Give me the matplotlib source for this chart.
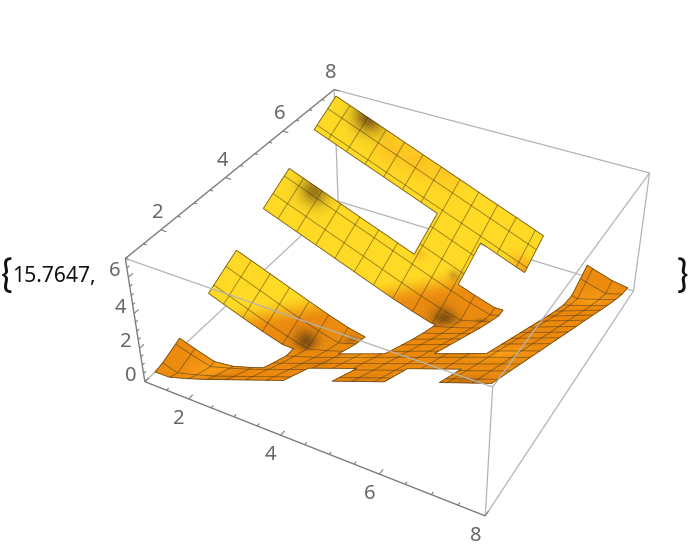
import numpy as np, matplotlib
matplotlib.use('Agg')
import matplotlib.pyplot as plt
from mpl_toolkits.mplot3d import proj3d
from mpl_toolkits.mplot3d.art3d import Poly3DCollection, Line3DCollection

# ---- data ----
NODE_X = [1, 1.4375, 1.875, 2.3125, 2.75, 3.1875, 3.625, 4.0625, 4.5, 4.9375, 5.375, 5.8125, 6.25, 6.6875, 7.125, 7.5625, 8]
NODE_Y = NODE_X
# height at mesh nodes, rows = y, columns = x
HEIGHT = [
 [0.15,0.50,0.88,1.31,1.75,2.19,2.63,3.06,3.50,3.94,4.38,4.81,5.25,5.69,6.13,6.56,7.00],
 [0.50,0.15,0.50,0.88,1.31,1.75,2.19,2.63,3.06,3.50,3.94,4.38,4.81,5.25,5.69,6.13,6.56],
 [0.88,0.50,0.15,0.50,0.88,1.31,1.75,2.19,2.63,3.06,3.50,3.94,4.38,4.81,5.25,5.69,6.13],
 [1.31,0.88,0.50,0.15,0.50,0.88,1.31,1.75,2.19,2.63,3.06,3.50,3.94,4.38,4.81,5.25,5.69],
 [1.75,1.31,0.88,0.50,0.15,0.50,0.88,1.31,1.75,2.19,2.63,3.06,3.50,3.94,4.38,4.81,5.25],
 [2.19,1.75,1.31,0.88,0.50,0.15,0.50,0.88,1.31,1.75,2.19,2.63,3.06,3.50,3.94,4.38,4.81],
 [2.63,2.19,1.75,1.31,0.88,0.50,0.15,0.50,0.88,1.31,1.75,2.19,2.63,3.06,3.50,3.94,4.38],
 [3.06,2.63,2.19,1.75,1.31,0.88,0.50,0.15,0.50,0.88,1.31,1.75,2.19,2.63,3.06,3.50,3.94],
 [3.50,3.06,2.63,2.19,1.75,1.31,0.88,0.50,0.15,0.50,0.88,1.31,1.75,2.19,2.63,3.06,3.50],
 [3.94,3.50,3.06,2.63,2.19,1.75,1.31,0.88,0.50,0.15,0.50,0.88,1.31,1.75,2.19,2.63,3.06],
 [4.38,3.94,3.50,3.06,2.63,2.19,1.75,1.31,0.88,0.50,0.15,0.50,0.88,1.31,1.75,2.19,2.63],
 [4.81,4.38,3.94,3.50,3.06,2.63,2.19,1.75,1.31,0.88,0.50,0.15,0.50,0.88,1.31,1.75,2.19],
 [5.25,4.81,4.38,3.94,3.50,3.06,2.63,2.19,1.75,1.31,0.88,0.50,0.15,0.50,0.88,1.31,1.75],
 [5.69,5.25,4.81,4.38,3.94,3.50,3.06,2.63,2.19,1.75,1.31,0.88,0.50,0.15,0.50,0.88,1.31],
 [6.13,5.69,5.25,4.81,4.38,3.94,3.50,3.06,2.63,2.19,1.75,1.31,0.88,0.50,0.15,0.50,0.88],
 [6.56,6.13,5.69,5.25,4.81,4.38,3.94,3.50,3.06,2.63,2.19,1.75,1.31,0.88,0.50,0.15,0.50],
 [7.00,6.56,6.13,5.69,5.25,4.81,4.38,3.94,3.50,3.06,2.63,2.19,1.75,1.31,0.88,0.50,0.15],
]
# open maze cells: y-row -> x columns (cell i spans x in [i, i+1])
ROW_1 = [1, 2, 3, 5, 7]
ROW_2 = [3, 4, 5, 6, 7]
ROW_3 = [1, 2, 3, 5, 7]
ROW_4 = [5, 7]
ROW_5 = [1, 2, 3, 4, 5, 7]
ROW_6 = [4, 7]
ROW_7 = [1, 2, 3, 4, 5, 7]
X_RANGE = (1.1, 7.9)
Y_RANGE = (1.2, 7.9)
# colour accents on the surface: x, y, radius, strength, colour
SPOT_X = [1.9, 1.75, 3.1, 5.1, 3.85, 5.8, 4.85, 4.1, 2.6, 3.2, 3.8, 5.85, 2.0, 7.3, 7.5, 4.6, 2.5, 5.5, 7.4, 6.5, 4.0]
SPOT_Y = [7.9, 5.9, 3.3, 5.2, 3.75, 5.4, 6.1, 6.05, 7.6, 7.7, 7.8, 7.1, 1.7, 3.0, 7.0, 2.8, 1.25, 1.3, 1.25, 3.1, 2.3]
SPOT_R = [.32, .28, .22, .24, .14, .12, .10, .12, .35, .35, .30, .20, .40, .40, .40, .30, .30, .30, .30, .3, .3]
SPOT_A = [.8, .65, .8, .8, .45, .45, .35, .4, .4, .4, .3, .6, .7, .7, .6, .6, .3, .3, .6, .3, .3]
SPOT_C = ['dark', 'dark', 'dark', 'dark', 'dark', 'dark', 'dark', 'amber', 'amber', 'amber', 'amber', 'amber',
          'light', 'light', 'light', 'light', 'deep', 'deep', 'deep', 'deep', 'deep']
PALETTE = {'dark': (95, 58, 10), 'amber': (250, 160, 20), 'light': (255, 165, 20), 'deep': (175, 95, 5)}
YELLOW = (255, 217, 30)
ORANGE = (236, 136, 8)
X_TICKS = [2, 4, 6, 8]
Y_TICKS = [2, 4, 6, 8]
Z_TICKS = [0, 2, 4, 6]
LEAD = '15.7647,'

W, H = 690, 552
plt.rcParams['font.family'] = ['Noto Sans', 'DejaVu Sans']
fig = plt.figure(figsize=(W / 100, H / 100), dpi=100)
S = 531.0
CX, CY = 393.1, 283.2
ax = fig.add_axes([(CX - S / 2) / W, (H - CY - S / 2) / H, S / W, S / H], projection='3d', computed_zorder=False)
ax.set_xlim(1, 8, view_margin=0); ax.set_ylim(1, 8, view_margin=0); ax.set_zlim(0, 7, view_margin=0)
ax.view_init(36.362, -61.408, 0.016)
ax.set_proj_type('persp', focal_length=0.442)
ax.set_box_aspect((1, 1, 0.402))
ax.set_axis_off()
ax.patch.set_visible(False)

# ---- surface ----
step = 0.05
gx = np.round(np.arange(1, 8 + step / 2, step), 4)
nx = len(gx)
Ztab = np.array(HEIGHT, float)
Zy = np.array([np.interp(gx, NODE_X, r) for r in Ztab])
Zf = np.array([np.interp(gx, NODE_Y, c) for c in Zy.T]).T

rows = [ROW_1, ROW_2, ROW_3, ROW_4, ROW_5, ROW_6, ROW_7]
mask = np.zeros((nx - 1, nx - 1), bool)
cxq = (gx[:-1] + gx[1:]) / 2
for j, row in enumerate(rows, start=1):
    for i in row:
        mx = (cxq > i) & (cxq < i + 1) & (cxq > X_RANGE[0]) & (cxq < X_RANGE[1])
        my = (cxq > j) & (cxq < j + 1) & (cxq > Y_RANGE[0]) & (cxq < Y_RANGE[1])
        mask[np.ix_(my, mx)] = True

gy_, gx_ = np.gradient(Zf, step)
def blur(a, w=5):
    k = np.ones(w) / w
    a = np.apply_along_axis(lambda v: np.convolve(np.pad(v, w // 2, mode='edge'), k, 'valid'), 0, a)
    a = np.apply_along_axis(lambda v: np.convolve(np.pad(v, w // 2, mode='edge'), k, 'valid'), 1, a)
    return a
t = blur((gy_ - gx_) / 2, 5)
XX, YY = np.meshgrid(gx, gx)
tt = np.clip(t, 0, 1)                        # yellow only on the rising side
high = np.clip((blur(Zf, 7) - 0.75) / 0.7, 0, 1)   # and only once it is well off the floor
s = tt * tt * (3 - 2 * tt) * high * high * (3 - 2 * high)
Yc, Oc = np.array(YELLOW, float), np.array(ORANGE, float)
col = Oc + (Yc - Oc) * s[..., None]
for sx, sy, sr, sa, sc in zip(SPOT_X, SPOT_Y, SPOT_R, SPOT_A, SPOT_C):
    w = sa * np.exp(-((XX - sx) ** 2 + (YY - sy) ** 2) / (2 * (sr * 0.7) ** 2))
    col = col * (1 - w[..., None]) + np.array(PALETTE[sc], float) * w[..., None]
col = np.clip(col / 255.0, 0, 1)

jj, ii = np.nonzero(mask)
polys = [[(gx[i], gx[j], Zf[j, i]), (gx[i + 1], gx[j], Zf[j, i + 1]),
          (gx[i + 1], gx[j + 1], Zf[j + 1, i + 1]), (gx[i], gx[j + 1], Zf[j + 1, i])] for j, i in zip(jj, ii)]
fc = np.clip([(col[j, i] + col[j + 1, i + 1]) / 2 for j, i in zip(jj, ii)], 0, 1)
pc = Poly3DCollection(polys, facecolors=fc, edgecolors=fc, linewidths=0.3, zsort='average', zorder=2)
pc.set_clip_on(False)
ax.add_collection3d(pc)

# mesh and boundary
segs = []
for node in NODE_X[1:-1]:
    idx = int(np.argmin(np.abs(gx - node)))
    idx = min(max(idx, 1), nx - 2)
    for j in range(nx - 1):   # constant x
        if mask[j, idx - 1] or mask[j, idx]:
            segs.append([(node, gx[j], Zf[j, idx]), (node, gx[j + 1], Zf[j + 1, idx])])
    for i in range(nx - 1):   # constant y
        if mask[idx - 1, i] or mask[idx, i]:
            segs.append([(gx[i], node, Zf[idx, i]), (gx[i + 1], node, Zf[idx, i + 1])])
mc = Line3DCollection(segs, colors=[(0.27, 0.22, 0.10, 0.55)], linewidths=0.65, zorder=3)
mc.set_clip_on(False)
ax.add_collection3d(mc)
bsegs = []
pad = np.zeros((nx + 1, nx + 1), bool); pad[1:-1, 1:-1] = mask
for j in range(nx):
    for i in range(nx - 1):
        if pad[j, i + 1] != pad[j + 1, i + 1]:
            bsegs.append([(gx[i], gx[j], Zf[j, i]), (gx[i + 1], gx[j], Zf[j, i + 1])])
for i in range(nx):
    for j in range(nx - 1):
        if pad[j + 1, i] != pad[j + 1, i + 1]:
            bsegs.append([(gx[i], gx[j], Zf[j, i]), (gx[i], gx[j + 1], Zf[j + 1, i])])
bc = Line3DCollection(bsegs, colors=[(0.30, 0.20, 0.05, 0.8)], linewidths=0.6, zorder=3)
bc.set_clip_on(False)
ax.add_collection3d(bc)

# ---- box ----
def edge(p, q, color, lw, z):
    ln, = ax.plot([p[0], q[0]], [p[1], q[1]], [p[2], q[2]], color=color, lw=lw, zorder=z, clip_on=False, solid_capstyle='butt')
LIGHT, DARK = '#b4b4b4', '#7d7d7d'
for p, q in [((1, 1, 0), (1, 8, 0)), ((1, 8, 0), (8, 8, 0)), ((1, 8, 0), (1, 8, 7)), ((8, 8, 0), (8, 8, 7))]:
    edge(p, q, LIGHT, 0.9, 1)
for p, q in [((8, 8, 0), (8, 1, 0)), ((1, 8, 7), (8, 8, 7)), ((8, 8, 7), (8, 1, 7)), ((1, 1, 7), (8, 1, 7)), ((8, 1, 7), (8, 1, 0))]:
    edge(p, q, LIGHT, 0.9, 4)
for p, q in [((1, 1, 0), (8, 1, 0)), ((1, 1, 7), (1, 8, 7)), ((1, 1, 0), (1, 1, 7))]:
    edge(p, q, DARK, 1.0, 4)

for v in np.arange(1, 8.01, 0.5):
    L = 0.13 if v in X_TICKS else 0.07
    edge((v, 1, 0), (v, 1 + L, 0), DARK, 0.8, 4)
    edge((1, v, 7), (1 + L, v, 7), DARK, 0.8, 4)
for v in np.arange(0, 7.01, 0.5):
    L = 0.13 if v in Z_TICKS else 0.07
    edge((1, 1, v), (1, 1 + L, v), DARK, 0.8, 4)

M = ax.get_proj()
TC = '#666666'
def label(txt, p, off):
    u, v, _ = proj3d.proj_transform(p[0], p[1], p[2], M)
    ax.annotate(txt, xy=(u, v), xycoords='data', xytext=off, textcoords='offset pixels', ha='center', va='center',
                color=TC, fontsize=14.5, annotation_clip=False, clip_on=False)
for v in X_TICKS:
    label(str(v), (v, 1, 0), (-10, -20))
for v in Y_TICKS:
    label(str(v), (1, v, 7), (-3, 17))
for v in Z_TICKS:
    label(str(v), (1, 1, v), (-14, 6))

fig.text(12.5 / W, 1 - 282 / H, LEAD, fontsize=15.2, color='#111111', ha='left', va='baseline')
BRACE = ['Lato', 'DejaVu Sans']
fig.text(7 / W, 1 - 276 / H, '{', fontsize=28, color='#111111', ha='center', va='center', family=BRACE, fontweight='normal')
fig.text(683 / W, 1 - 276 / H, '}', fontsize=28, color='#111111', ha='center', va='center', family=BRACE, fontweight='normal')

fig.savefig('out.png', dpi=100)
